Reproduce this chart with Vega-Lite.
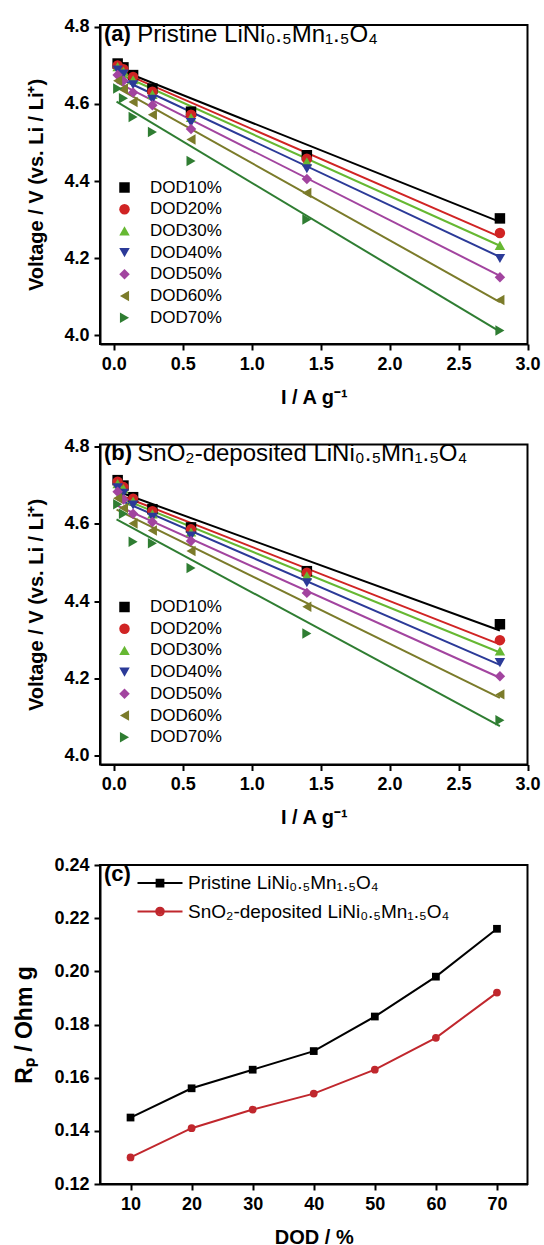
{
  "$schema": "https://vega.github.io/schema/vega-lite/v6.json",
  "background": "white",
  "padding": {"left": 12, "top": 16, "right": 12, "bottom": 0},
  "config": {
    "view": {"stroke": "black", "strokeWidth": 2},
    "font": "Liberation Sans",
    "axis": {
      "domainColor": "black", "domainWidth": 2, "tickColor": "black", "tickWidth": 2,
      "labelFont": "Liberation Sans", "labelFontWeight": "bold", "labelFontSize": 18, "labelColor": "black",
      "titleFont": "Liberation Sans", "titleFontWeight": "bold", "titleFontSize": 20, "titleColor": "black",
      "grid": false, "labelPadding": 5, "labelFlush": false, "labelOverlap": false
    }
  },
  "datasets": {
    "ptsA": [
      {"dod":"DOD10%","i":0.028,"v":4.705},{"dod":"DOD10%","i":0.07,"v":4.695},{"dod":"DOD10%","i":0.14,"v":4.675},{"dod":"DOD10%","i":0.28,"v":4.640},{"dod":"DOD10%","i":0.56,"v":4.580},{"dod":"DOD10%","i":1.4,"v":4.467},{"dod":"DOD10%","i":2.8,"v":4.303},
      {"dod":"DOD20%","i":0.028,"v":4.700},{"dod":"DOD20%","i":0.07,"v":4.690},{"dod":"DOD20%","i":0.14,"v":4.670},{"dod":"DOD20%","i":0.28,"v":4.632},{"dod":"DOD20%","i":0.56,"v":4.572},{"dod":"DOD20%","i":1.4,"v":4.458},{"dod":"DOD20%","i":2.8,"v":4.265},
      {"dod":"DOD30%","i":0.028,"v":4.697},{"dod":"DOD30%","i":0.07,"v":4.685},{"dod":"DOD30%","i":0.14,"v":4.663},{"dod":"DOD30%","i":0.28,"v":4.625},{"dod":"DOD30%","i":0.56,"v":4.565},{"dod":"DOD30%","i":1.4,"v":4.450},{"dod":"DOD30%","i":2.8,"v":4.233},
      {"dod":"DOD40%","i":0.028,"v":4.688},{"dod":"DOD40%","i":0.07,"v":4.678},{"dod":"DOD40%","i":0.14,"v":4.650},{"dod":"DOD40%","i":0.28,"v":4.612},{"dod":"DOD40%","i":0.56,"v":4.552},{"dod":"DOD40%","i":1.4,"v":4.432},{"dod":"DOD40%","i":2.8,"v":4.199},
      {"dod":"DOD50%","i":0.028,"v":4.675},{"dod":"DOD50%","i":0.07,"v":4.660},{"dod":"DOD50%","i":0.14,"v":4.630},{"dod":"DOD50%","i":0.28,"v":4.597},{"dod":"DOD50%","i":0.56,"v":4.535},{"dod":"DOD50%","i":1.4,"v":4.405},{"dod":"DOD50%","i":2.8,"v":4.150},
      {"dod":"DOD60%","i":0.028,"v":4.660},{"dod":"DOD60%","i":0.07,"v":4.640},{"dod":"DOD60%","i":0.14,"v":4.605},{"dod":"DOD60%","i":0.28,"v":4.572},{"dod":"DOD60%","i":0.56,"v":4.508},{"dod":"DOD60%","i":1.4,"v":4.369},{"dod":"DOD60%","i":2.8,"v":4.091},
      {"dod":"DOD70%","i":0.028,"v":4.640},{"dod":"DOD70%","i":0.07,"v":4.615},{"dod":"DOD70%","i":0.14,"v":4.566},{"dod":"DOD70%","i":0.28,"v":4.527},{"dod":"DOD70%","i":0.56,"v":4.452},{"dod":"DOD70%","i":1.4,"v":4.300},{"dod":"DOD70%","i":2.8,"v":4.012}
    ],
    "fitA": [
      {"dod":"DOD10%","i":0.02,"v":4.692},{"dod":"DOD10%","i":2.8,"v":4.294},
      {"dod":"DOD20%","i":0.02,"v":4.688},{"dod":"DOD20%","i":2.8,"v":4.255},
      {"dod":"DOD30%","i":0.02,"v":4.681},{"dod":"DOD30%","i":2.8,"v":4.232},
      {"dod":"DOD40%","i":0.02,"v":4.670},{"dod":"DOD40%","i":2.8,"v":4.203},
      {"dod":"DOD50%","i":0.02,"v":4.657},{"dod":"DOD50%","i":2.8,"v":4.154},
      {"dod":"DOD60%","i":0.02,"v":4.643},{"dod":"DOD60%","i":2.8,"v":4.086},
      {"dod":"DOD70%","i":0.02,"v":4.606},{"dod":"DOD70%","i":2.8,"v":4.009}
    ],
    "ptsB": [
      {"dod":"DOD10%","i":0.028,"v":4.712},{"dod":"DOD10%","i":0.07,"v":4.698},{"dod":"DOD10%","i":0.14,"v":4.668},{"dod":"DOD10%","i":0.28,"v":4.637},{"dod":"DOD10%","i":0.56,"v":4.590},{"dod":"DOD10%","i":1.4,"v":4.477},{"dod":"DOD10%","i":2.8,"v":4.340},
      {"dod":"DOD20%","i":0.028,"v":4.708},{"dod":"DOD20%","i":0.07,"v":4.694},{"dod":"DOD20%","i":0.14,"v":4.664},{"dod":"DOD20%","i":0.28,"v":4.632},{"dod":"DOD20%","i":0.56,"v":4.585},{"dod":"DOD20%","i":1.4,"v":4.473},{"dod":"DOD20%","i":2.8,"v":4.299},
      {"dod":"DOD30%","i":0.028,"v":4.703},{"dod":"DOD30%","i":0.07,"v":4.690},{"dod":"DOD30%","i":0.14,"v":4.658},{"dod":"DOD30%","i":0.28,"v":4.625},{"dod":"DOD30%","i":0.56,"v":4.578},{"dod":"DOD30%","i":1.4,"v":4.465},{"dod":"DOD30%","i":2.8,"v":4.271},
      {"dod":"DOD40%","i":0.028,"v":4.692},{"dod":"DOD40%","i":0.07,"v":4.678},{"dod":"DOD40%","i":0.14,"v":4.648},{"dod":"DOD40%","i":0.28,"v":4.616},{"dod":"DOD40%","i":0.56,"v":4.568},{"dod":"DOD40%","i":1.4,"v":4.447},{"dod":"DOD40%","i":2.8,"v":4.241},
      {"dod":"DOD50%","i":0.028,"v":4.682},{"dod":"DOD50%","i":0.07,"v":4.662},{"dod":"DOD50%","i":0.14,"v":4.625},{"dod":"DOD50%","i":0.28,"v":4.604},{"dod":"DOD50%","i":0.56,"v":4.555},{"dod":"DOD50%","i":1.4,"v":4.421},{"dod":"DOD50%","i":2.8,"v":4.206},
      {"dod":"DOD60%","i":0.028,"v":4.665},{"dod":"DOD60%","i":0.07,"v":4.640},{"dod":"DOD60%","i":0.14,"v":4.600},{"dod":"DOD60%","i":0.28,"v":4.582},{"dod":"DOD60%","i":0.56,"v":4.529},{"dod":"DOD60%","i":1.4,"v":4.385},{"dod":"DOD60%","i":2.8,"v":4.159},
      {"dod":"DOD70%","i":0.028,"v":4.650},{"dod":"DOD70%","i":0.07,"v":4.625},{"dod":"DOD70%","i":0.14,"v":4.553},{"dod":"DOD70%","i":0.28,"v":4.549},{"dod":"DOD70%","i":0.56,"v":4.485},{"dod":"DOD70%","i":1.4,"v":4.316},{"dod":"DOD70%","i":2.8,"v":4.092}
    ],
    "fitB": [
      {"dod":"DOD10%","i":0.02,"v":4.684},{"dod":"DOD10%","i":2.8,"v":4.324},
      {"dod":"DOD20%","i":0.02,"v":4.677},{"dod":"DOD20%","i":2.8,"v":4.288},
      {"dod":"DOD30%","i":0.02,"v":4.670},{"dod":"DOD30%","i":2.8,"v":4.267},
      {"dod":"DOD40%","i":0.02,"v":4.664},{"dod":"DOD40%","i":2.8,"v":4.235},
      {"dod":"DOD50%","i":0.02,"v":4.647},{"dod":"DOD50%","i":2.8,"v":4.202},
      {"dod":"DOD60%","i":0.02,"v":4.636},{"dod":"DOD60%","i":2.8,"v":4.150},
      {"dod":"DOD70%","i":0.02,"v":4.611},{"dod":"DOD70%","i":2.8,"v":4.077}
    ],
    "rp": [
      {"series":"Pristine LiNi₀.₅Mn₁.₅O₄","dod":10,"rp":0.145},{"series":"Pristine LiNi₀.₅Mn₁.₅O₄","dod":20,"rp":0.156},{"series":"Pristine LiNi₀.₅Mn₁.₅O₄","dod":30,"rp":0.163},{"series":"Pristine LiNi₀.₅Mn₁.₅O₄","dod":40,"rp":0.170},{"series":"Pristine LiNi₀.₅Mn₁.₅O₄","dod":50,"rp":0.183},{"series":"Pristine LiNi₀.₅Mn₁.₅O₄","dod":60,"rp":0.198},{"series":"Pristine LiNi₀.₅Mn₁.₅O₄","dod":70,"rp":0.216},
      {"series":"SnO₂-deposited LiNi₀.₅Mn₁.₅O₄","dod":10,"rp":0.130},{"series":"SnO₂-deposited LiNi₀.₅Mn₁.₅O₄","dod":20,"rp":0.141},{"series":"SnO₂-deposited LiNi₀.₅Mn₁.₅O₄","dod":30,"rp":0.148},{"series":"SnO₂-deposited LiNi₀.₅Mn₁.₅O₄","dod":40,"rp":0.154},{"series":"SnO₂-deposited LiNi₀.₅Mn₁.₅O₄","dod":50,"rp":0.163},{"series":"SnO₂-deposited LiNi₀.₅Mn₁.₅O₄","dod":60,"rp":0.175},{"series":"SnO₂-deposited LiNi₀.₅Mn₁.₅O₄","dod":70,"rp":0.192}
    ]
  },
  "bounds": "flush",
  "spacing": 100.5,
  "resolve": {"scale": {"color": "independent", "shape": "independent", "stroke": "independent", "fill": "independent"}},
  "vconcat": [
    {
      "width": 427.5, "height": 319,
      "title": {"text": "(a)", "subtitle": "\u200b\u00a0\u00a0\u00a0\u00a0\u00a0Pristine LiNi₀.₅Mn₁.₅O₄", "anchor": "start", "frame": "group", "orient": "top", "offset": -30, "dx": 4,
        "font": "Liberation Sans", "fontSize": 22, "fontWeight": "bold", "color": "black",
        "subtitleFont": "Liberation Sans", "subtitleFontSize": 24, "subtitleFontWeight": "normal", "subtitleColor": "black", "subtitlePadding": -23},
      "layer": [
        {
          "data": {"name": "fitA"},
          "mark": {"type": "line", "strokeWidth": 2},
          "encoding": {
            "x": {"field": "i", "type": "quantitative", "scale": {"domain": [-0.1, 3.0], "nice": false, "zero": false},
              "axis": {"title": "I / A g⁻¹", "titlePadding": 14, "values": [0,0.25,0.5,0.75,1,1.25,1.5,1.75,2,2.25,2.5,2.75,3],
                "labelExpr": "round(datum.value*4) % 2 == 0 ? format(datum.value, '.1f') : ''",
                "tickSize": {"condition": {"test": "round(datum.value*4) % 2 == 0", "value": 6}, "value": 3.5}}},
            "y": {"field": "v", "type": "quantitative", "scale": {"domain": [3.977, 4.805], "nice": false, "zero": false},
              "axis": {"title": "Voltage / V (vs. Li / Li⁺)", "titlePadding": 17, "values": [4.0,4.1,4.2,4.3,4.4,4.5,4.6,4.7,4.8],
                "labelExpr": "round(datum.value*10) % 2 == 0 ? format(datum.value, '.1f') : ''",
                "tickSize": {"condition": {"test": "round(datum.value*10) % 2 == 0", "value": 6}, "value": 3.5}}},
            "stroke": {"field": "dod", "type": "nominal", "scale": {"range": ["#000000","#d02424","#66b832","#2b3a98","#a2449f","#7b7b2a","#2f7d32"]}, "legend": null}
          }
        },
        {
          "data": {"name": "ptsA"},
          "mark": {"type": "point", "filled": true, "opacity": 1, "size": 110},
          "encoding": {
            "x": {"field": "i", "type": "quantitative"},
            "y": {"field": "v", "type": "quantitative"},
            "color": {"field": "dod", "type": "nominal", "scale": {"domain": ["DOD10%","DOD20%","DOD30%","DOD40%","DOD50%","DOD60%","DOD70%"], "range": ["#000000","#d02424","#66b832","#2b3a98","#a2449f","#7b7b2a","#2f7d32"]}, "legend": {"orient": "none", "legendX": 16, "legendY": 154, "title": null, "labelFont": "Liberation Sans", "labelFontSize": 17, "labelColor": "black", "symbolSize": 110, "rowPadding": 3.7, "labelOffset": 17, "padding": 0, "symbolStrokeWidth": 0}},
            "shape": {"field": "dod", "type": "nominal", "scale": {"domain": ["DOD10%","DOD20%","DOD30%","DOD40%","DOD50%","DOD60%","DOD70%"], "range": ["square","circle","triangle-up","triangle-down","diamond","triangle-left","triangle-right"]}, "legend": {"orient": "none", "legendX": 16, "legendY": 154, "title": null, "labelFont": "Liberation Sans", "labelFontSize": 17, "labelColor": "black", "symbolSize": 110, "rowPadding": 3.7, "labelOffset": 17, "padding": 0, "symbolStrokeWidth": 0}}
          }
        }
      ]
    },
    {
      "width": 427.5, "height": 320,
      "title": {"text": "(b)", "subtitle": "\u200b\u00a0\u00a0\u00a0\u00a0\u00a0SnO₂-deposited LiNi₀.₅Mn₁.₅O₄", "anchor": "start", "frame": "group", "orient": "top", "offset": -30, "dx": 4,
        "font": "Liberation Sans", "fontSize": 22, "fontWeight": "bold", "color": "black",
        "subtitleFont": "Liberation Sans", "subtitleFontSize": 24, "subtitleFontWeight": "normal", "subtitleColor": "black", "subtitlePadding": -23},
      "layer": [
        {
          "data": {"name": "fitB"},
          "mark": {"type": "line", "strokeWidth": 2},
          "encoding": {
            "x": {"field": "i", "type": "quantitative", "scale": {"domain": [-0.1, 3.0], "nice": false, "zero": false},
              "axis": {"title": "I / A g⁻¹", "titlePadding": 14, "values": [0,0.25,0.5,0.75,1,1.25,1.5,1.75,2,2.25,2.5,2.75,3],
                "labelExpr": "round(datum.value*4) % 2 == 0 ? format(datum.value, '.1f') : ''",
                "tickSize": {"condition": {"test": "round(datum.value*4) % 2 == 0", "value": 6}, "value": 3.5}}},
            "y": {"field": "v", "type": "quantitative", "scale": {"domain": [3.978, 4.804], "nice": false, "zero": false},
              "axis": {"title": "Voltage / V (vs. Li / Li⁺)", "titlePadding": 17, "values": [4.0,4.1,4.2,4.3,4.4,4.5,4.6,4.7,4.8],
                "labelExpr": "round(datum.value*10) % 2 == 0 ? format(datum.value, '.1f') : ''",
                "tickSize": {"condition": {"test": "round(datum.value*10) % 2 == 0", "value": 6}, "value": 3.5}}},
            "stroke": {"field": "dod", "type": "nominal", "scale": {"range": ["#000000","#d02424","#66b832","#2b3a98","#a2449f","#7b7b2a","#2f7d32"]}, "legend": null}
          }
        },
        {
          "data": {"name": "ptsB"},
          "mark": {"type": "point", "filled": true, "opacity": 1, "size": 110},
          "encoding": {
            "x": {"field": "i", "type": "quantitative"},
            "y": {"field": "v", "type": "quantitative"},
            "color": {"field": "dod", "type": "nominal", "scale": {"domain": ["DOD10%","DOD20%","DOD30%","DOD40%","DOD50%","DOD60%","DOD70%"], "range": ["#000000","#d02424","#66b832","#2b3a98","#a2449f","#7b7b2a","#2f7d32"]}, "legend": {"orient": "none", "legendX": 16, "legendY": 154, "title": null, "labelFont": "Liberation Sans", "labelFontSize": 17, "labelColor": "black", "symbolSize": 110, "rowPadding": 3.7, "labelOffset": 17, "padding": 0, "symbolStrokeWidth": 0}},
            "shape": {"field": "dod", "type": "nominal", "scale": {"domain": ["DOD10%","DOD20%","DOD30%","DOD40%","DOD50%","DOD60%","DOD70%"], "range": ["square","circle","triangle-up","triangle-down","diamond","triangle-left","triangle-right"]}, "legend": {"orient": "none", "legendX": 16, "legendY": 154, "title": null, "labelFont": "Liberation Sans", "labelFontSize": 17, "labelColor": "black", "symbolSize": 110, "rowPadding": 3.7, "labelOffset": 17, "padding": 0, "symbolStrokeWidth": 0}}
          }
        }
      ]
    },
    {
      "width": 427.5, "height": 319,
      "title": {"text": "(c)", "anchor": "start", "frame": "group", "orient": "top", "offset": -30, "dx": 4,
        "font": "Liberation Sans", "fontSize": 22, "fontWeight": "bold", "color": "black"},
      "layer": [
        {
          "data": {"name": "rp"},
          "mark": {"type": "line", "strokeWidth": 2},
          "encoding": {
            "x": {"field": "dod", "type": "quantitative", "scale": {"domain": [5, 75], "nice": false, "zero": false},
              "axis": {"title": "DOD / %", "titlePadding": 14, "values": [10,15,20,25,30,35,40,45,50,55,60,65,70,75],
                "labelExpr": "datum.value % 10 == 0 ? format(datum.value, 'd') : ''",
                "tickSize": {"condition": {"test": "datum.value % 10 == 0", "value": 6}, "value": 3.5}}},
            "y": {"field": "rp", "type": "quantitative", "scale": {"domain": [0.12, 0.24], "nice": false, "zero": false},
              "axis": {"title": "Rₚ / Ohm g", "titleFontSize": 23, "titlePadding": 17, "values": [0.12,0.13,0.14,0.15,0.16,0.17,0.18,0.19,0.2,0.21,0.22,0.23,0.24],
                "labelExpr": "round(datum.value*100) % 2 == 0 ? format(datum.value, '.2f') : ''",
                "tickSize": {"condition": {"test": "round(datum.value*100) % 2 == 0", "value": 6}, "value": 3.5}}},
            "stroke": {"field": "series", "type": "nominal", "scale": {"range": ["#000000", "#c0272d"]}, "legend": null}
          }
        },
        {
          "data": {"name": "rp"},
          "transform": [{"filter": "indexof(datum.series, 'Pristine') == 0"}],
          "mark": {"type": "point", "filled": true, "opacity": 1, "shape": "square", "size": 60},
          "encoding": {
            "x": {"field": "dod", "type": "quantitative"},
            "y": {"field": "rp", "type": "quantitative"},
            "fill": {"field": "series", "type": "nominal", "scale": {"range": ["#000000", "#c0272d"]}, "legend": null}
          }
        },
        {
          "data": {"name": "rp"},
          "transform": [{"filter": "indexof(datum.series, 'SnO') == 0"}],
          "mark": {"type": "point", "filled": true, "opacity": 1, "shape": "circle", "size": 60},
          "encoding": {
            "x": {"field": "dod", "type": "quantitative"},
            "y": {"field": "rp", "type": "quantitative"},
            "fill": {"field": "series", "type": "nominal", "legend": null}
          }
        },
        {
          "data": {"name": "rp"},
          "transform": [{"filter": "false"}],
          "mark": {"type": "point", "filled": false, "strokeWidth": 2},
          "encoding": {
            "x": {"field": "dod", "type": "quantitative"},
            "y": {"field": "rp", "type": "quantitative"},
            "color": {"field": "series", "type": "nominal", "scale": {"domain": ["Pristine LiNi₀.₅Mn₁.₅O₄", "SnO₂-deposited LiNi₀.₅Mn₁.₅O₄"], "range": ["#000000", "#c0272d"]}, "legend": {"orient": "none", "legendX": 50.5, "legendY": 8.5, "title": null, "labelFont": "Liberation Sans", "labelFontSize": 19, "labelColor": "black", "labelLimit": 400, "symbolSize": 81, "rowPadding": 8.5, "labelOffset": 18.5, "padding": 0, "symbolStrokeWidth": 2, "symbolOpacity": 1}},
            "shape": {"field": "series", "type": "nominal", "scale": {"domain": ["Pristine LiNi₀.₅Mn₁.₅O₄", "SnO₂-deposited LiNi₀.₅Mn₁.₅O₄"], "range": ["M-5,0L5,0M-0.75,-0.75L0.75,-0.75L0.75,0.75L-0.75,0.75ZM-0.35,-0.35L0.35,-0.35L0.35,0.35L-0.35,0.35Z", "M-5,0L5,0M0.85,0A0.85,0.85,0,1,1,-0.85,0A0.85,0.85,0,1,1,0.85,0ZM0.4,0A0.4,0.4,0,1,1,-0.4,0A0.4,0.4,0,1,1,0.4,0Z"]}, "legend": {"orient": "none", "legendX": 50.5, "legendY": 8.5, "title": null, "labelFont": "Liberation Sans", "labelFontSize": 19, "labelColor": "black", "labelLimit": 400, "symbolSize": 81, "rowPadding": 8.5, "labelOffset": 18.5, "padding": 0, "symbolStrokeWidth": 2, "symbolOpacity": 1}}
          }
        }
      ]
    }
  ]
}
